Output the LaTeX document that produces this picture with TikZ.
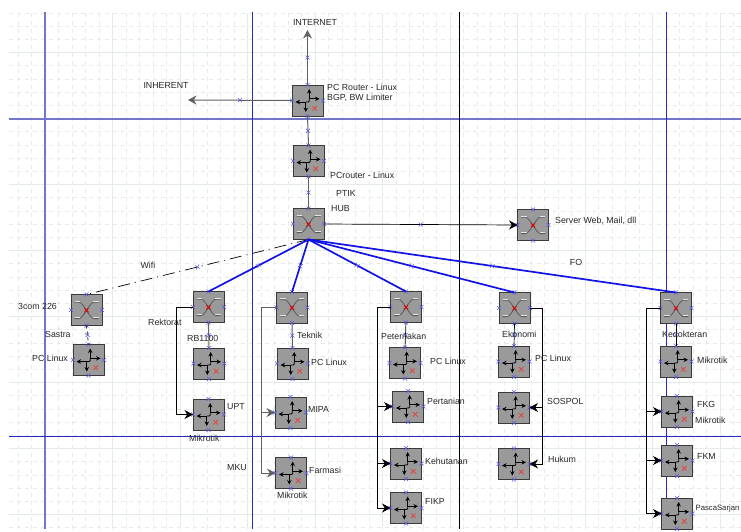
\documentclass[tikz,border=0pt]{standalone}
\usepackage{fontspec}
\setmainfont{Liberation Sans}
\usetikzlibrary{arrows.meta,decorations.markings}
\definecolor{gridc}{HTML}{E3ECE9}
\definecolor{bar}{HTML}{2A2AC0}
\definecolor{barl}{HTML}{7474CC}
\definecolor{fo}{HTML}{1212E6}
\definecolor{mkc}{HTML}{5A5AE6}
\definecolor{redx}{HTML}{E04848}
\definecolor{boxf}{HTML}{9A9A9A}
\definecolor{boxd}{HTML}{3A3A3A}
\definecolor{lnk}{HTML}{606060}
\tikzset{
  x=1pt,y=-1pt,
  devbox/.style={draw=boxd,line width=.9pt,fill=boxf,minimum size=31pt,inner sep=0pt,outer sep=0pt},
  lbl/.style={anchor=west,inner sep=0pt,font=\fontsize{8.8}{10}\selectfont,text=black!85},
  lblc/.style={lbl,anchor=center},
  mk/.style={draw=mkc,line width=.6pt},
  midmark/.style={postaction={decorate,decoration={markings,mark=at position .5 with {\draw[draw=mkc,line width=.6pt,solid,arrows=-] (-2,-2)--(2,2) (-2,2)--(2,-2);}}}},
  tip/.style={-{Stealth[length=8.5pt,width=9pt]}},
  thinlink/.style={draw=black,line width=.7pt},
  graylink/.style={draw=lnk,line width=1pt},
  folink/.style={draw=fo,line width=1.7pt,midmark},
  glyphline/.style={draw=black,line width=.8pt},
  gtip/.style={-{Stealth[length=4.5pt,width=4.5pt]}},
}
\newcommand{\devmarks}[1]{%
  \foreach \p in {north,south,east,west}{%
    \draw[mk] ([shift={(-2,-2)}]#1.\p)--([shift={(2,2)}]#1.\p) ([shift={(-2,2)}]#1.\p)--([shift={(2,-2)}]#1.\p);}}
\newcommand{\devR}[3]{%
  \node[devbox] (#1) at (#2,#3) {};
  \begin{scope}[shift={(#2,#3)}]
    \draw[glyphline,gtip] (1.7,-1.5)--(1.7,-11.5);
    \draw[glyphline,gtip] (1.7,-1.7)--(12,-1.7);
    \draw[glyphline,gtip] (-1.5,1.5)--(-12,1.5);
    \draw[glyphline,gtip] (-1.7,1.5)--(-1.7,11.5);
    \draw[glyphline] (1.7,-1.7)--(1.7,.5)--(.7,1.5)--(-1.7,1.5);
    \draw[draw=redx,line width=.8pt] (5,5.5)--(9.5,10) (5,10)--(9.5,5.5);
  \end{scope}
  \devmarks{#1}}
\newcommand{\devS}[3]{%
  \node[devbox] (#1) at (#2,#3) {};
  \begin{scope}[shift={(#2,#3)}]
    \draw[draw=black!65,line width=.8pt,line join=round] (-12,-7.8)--(-7.5,-7.8) .. controls (-3,-7.8) and (3,8.6) .. (7.5,8.6)--(12,8.6) (12,-7.8)--(7.5,-7.8) .. controls (3,-7.8) and (-3,8.6) .. (-7.5,8.6)--(-12,8.6);
    \draw[draw=black!10,line width=.7pt] (-12,-8.7)--(-6.5,-8.7) (12,-8.7)--(6.5,-8.7) (-12,7.7)--(-6.5,7.7) (12,7.7)--(6.5,7.7);
    \draw[draw=red!85!black,line width=.9pt] (-2,-1.7)--(2,2.3) (-2,2.3)--(2,-1.7);
  \end{scope}
  \devmarks{#1}}
\begin{document}
\begin{tikzpicture}
\useasboundingbox (0,0) rectangle (741,531);
\clip (0,0) rectangle (741,531);
% grid
\foreach \k in {0,...,39}{\draw[gridc,line width=.8pt,dash pattern=on 4pt off 4pt] (9,{13+13.2*\k})--(741,{13+13.2*\k});}
\foreach \k in {0,...,53}{\draw[gridc,line width=.8pt,dash pattern=on 4pt off 4pt] ({18+13.5*\k},13)--({18+13.5*\k},529);}
\foreach \k in {0,...,7}{\draw[gridc,line width=.9pt] (9,{52.5+66*\k})--(741,{52.5+66*\k});}
\foreach \k in {0,...,10}{\draw[gridc,line width=.9pt] ({45+67.5*\k},13)--({45+67.5*\k},529);}
% page bars
\draw[barl,line width=1.4pt] (45,12)--(45,529);
\draw[barl,line width=1.4pt] (9,119)--(741,119);
\draw[bar,line width=1pt] (9,436)--(741,436);
\draw[bar,line width=1pt] (252,12)--(252,529);
\draw[black,line width=1pt] (459,12)--(459,529);
\draw[bar,line width=1pt] (666.5,12)--(666.5,529);
% free ends
\coordinate (inetend) at (307.5,30);
\coordinate (inhend) at (188,100);
% devices
\devR{rA}{307.5}{100.5}
\devR{rB}{308.5}{161}
\devS{hub}{308.5}{224}
\devS{srv}{533}{225}
\devS{com}{86.5}{310}
\devR{pcS}{88.5}{360}
\devS{rek}{208.5}{307}
\devR{rb}{209}{363.5}
\devR{upt}{208.5}{414.5}
\devS{tek}{292}{307.5}
\devR{pcT}{292.5}{363.5}
\devR{mipa}{290.5}{412.5}
\devR{far}{291}{473}
\devS{pet}{406}{307}
\devR{pcP}{405}{363}
\devR{per}{408}{406.5}
\devR{keh}{406}{463.5}
\devR{fikp}{406}{508}
\devS{eko}{514.5}{308}
\devR{pcE}{514}{361.5}
\devR{sos}{514}{407.5}
\devR{huk}{514}{464}
\devS{ked}{676}{308}
\devR{mik}{676}{361.5}
\devR{fkg}{677}{411.5}
\devR{fkm}{677}{460.5}
\devR{pas}{677}{513.5}
% upper links
\draw[graylink,tip,midmark] (rA.north)--(inetend);
\draw[graylink,tip,midmark] (rA.west)--(inhend);
\draw[graylink,midmark] (rA.south)--(rB.north);
\draw[graylink,midmark] (rB.south)--(hub.north);
\draw[thinlink,tip,midmark] (hub.east)--(srv.west);
% backbone
\draw[draw=black,line width=.7pt,dash pattern=on 12pt off 5pt on 1pt off 5pt,midmark] (hub.south)--(com.north);
\draw[folink] (hub.south)--(rek.north);
\draw[folink] (hub.south)--(tek.north);
\draw[folink] (hub.south)--(pet.north);
\draw[folink] (hub.south)--(eko.north);
\draw[folink] (hub.south)--(ked.north);
% vertical links
\draw[thinlink,dashed,midmark] (com.south)--(pcS.north);
\draw[graylink,midmark] (rek.south)--(rb.north);
\draw[graylink,midmark] (tek.south)--(pcT.north);
\draw[thinlink,midmark] (pet.south)--(pcP.north);
\draw[thinlink,midmark] (eko.south)--(pcE.north);
\draw[thinlink,midmark] (ked.south)--(mik.north);
% tree links
\draw[thinlink,tip] (rek.west)--++(-16.5,0)|-(upt.west);
\draw[graylink,tip] (tek.west)--++(-15,0)|-(mipa.west);
\draw[graylink,tip] (tek.west)--++(-15,0)|-(far.west);
\draw[thinlink,tip] (pet.west)--++(-13.5,0)|-(per.west);
\draw[thinlink,tip] (pet.west)--++(-13.5,0)|-(keh.west);
\draw[thinlink,tip] (pet.west)--++(-13.5,0)|-(fikp.west);
\draw[thinlink,tip] (eko.east)--++(12.5,0)|-(sos.east);
\draw[thinlink,tip] (eko.east)--++(12.5,0)|-(huk.east);
\draw[thinlink,tip] (ked.west)--++(-14,0)|-(fkg.west);
\draw[thinlink,tip] (ked.west)--++(-14,0)|-(fkm.west);
\draw[thinlink,tip] (ked.west)--++(-14,0)|-(pas.west);
% labels
\node[lblc] (t1) at (315,22) {INTERNET};
\node[lblc] (t2) at (166,85) {INHERENT};
\node[lbl] (t3) at (327,87) {PC Router - Linux};
\node[lbl] (t4) at (327,97.5) {BGP, BW Limiter};
\node[lbl] (t5) at (330,175) {PCrouter - Linux};
\node[lbl] (t6) at (336,193.5) {PTIK};
\node[lbl] (t7) at (331,208.5) {HUB};
\node[lbl] (t8) at (555,221) {Server Web, Mail, dll};
\node[lblc] (t9) at (148,265) {Wifi};
\node[lblc] (t10) at (576,262) {FO};
\node[lbl] (t11) at (18,306) {3com 226};
\node[lbl] (t12) at (45,334) {Sastra};
\node[lbl] (t13) at (32,358) {PC Linux};
\node[lbl] (t14) at (148,322) {Rektorat};
\node[lbl] (t15) at (187,338) {RB1100};
\node[lbl] (t16) at (227,407) {UPT};
\node[lbl] (t17) at (189,438) {Mikrotik};
\node[lbl] (t18) at (227,468) {MKU};
\node[lbl] (t19) at (297,335) {Teknik};
\node[lbl] (t20) at (311,362) {PC Linux};
\node[lbl] (t21) at (308,409) {MIPA};
\node[lbl] (t22) at (309,470) {Farmasi};
\node[lbl] (t23) at (277,495) {Mikrotik};
\node[lbl] (t24) at (381,336) {Peternakan};
\node[lbl] (t25) at (430,361) {PC Linux};
\node[lbl] (t26) at (427,401) {Pertanian};
\node[lbl] (t27) at (425,461) {Kehutanan};
\node[lbl] (t28) at (425,501) {FIKP};
\node[lbl] (t29) at (502,334) {Ekonomi};
\node[lbl] (t30) at (535,358) {PC Linux};
\node[lbl] (t31) at (547,401) {SOSPOL};
\node[lbl] (t32) at (548,459) {Hukum};
\node[lbl] (t33) at (662,334) {Kedokteran};
\node[lbl] (t34) at (697,360) {Mikrotik};
\node[lbl] (t35) at (697,404) {FKG};
\node[lbl] (t36) at (695,420) {Mikrotik};
\node[lbl] (t37) at (697,456) {FKM};
\node[lbl,font=\fontsize{7.7}{9}\selectfont] (t38) at (695.5,508) {PascaSarjan};
\end{tikzpicture}
\end{document}
